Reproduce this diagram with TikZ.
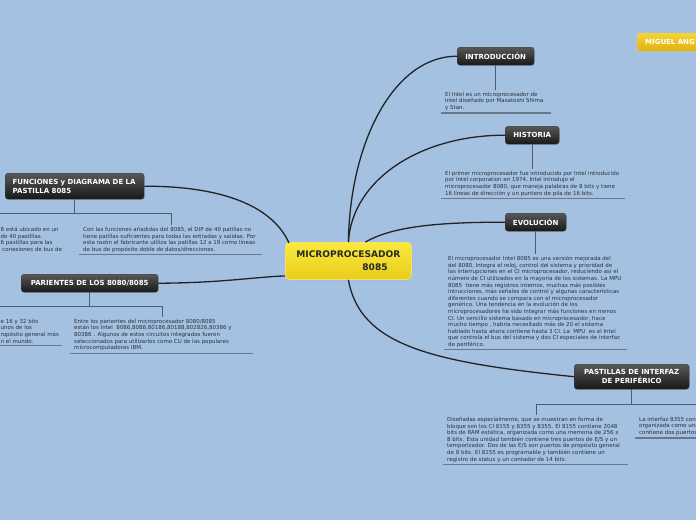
\documentclass[tikz,border=0pt]{standalone}
\usepackage{fontspec}
\setmainfont{DejaVu Sans}
\usetikzlibrary{shadows,calc}
\definecolor{bg}{RGB}{164,193,226}
\definecolor{linec}{RGB}{35,35,38}
\definecolor{branchc}{RGB}{80,92,110}
\definecolor{ulc}{RGB}{105,120,142}
\definecolor{txtc}{RGB}{45,48,58}
\definecolor{darktop}{RGB}{88,88,88}
\definecolor{darkbot}{RGB}{24,24,24}
\definecolor{yeltop}{RGB}{250,234,60}
\definecolor{yelbot}{RGB}{234,204,28}
\definecolor{yelborder}{RGB}{246,226,110}
\definecolor{goldtop}{RGB}{246,212,52}
\definecolor{goldbot}{RGB}{222,176,20}
\tikzset{
  topic/.style={rounded corners=3pt, top color=darktop, bottom color=darkbot,
    draw=black!75, line width=0.4pt, text=white,
    font=\fontsize{7}{9}\selectfont\bfseries, inner sep=0pt, anchor=north west,
    drop shadow={opacity=0.25,shadow xshift=0.6pt,shadow yshift=-1pt}},
  centertopic/.style={rounded corners=4pt, top color=yeltop, bottom color=yelbot,
    draw=yelborder, line width=0.8pt, text={rgb,255:red,40;green,40;blue,40},
    font=\fontsize{9.1}{13}\selectfont\bfseries, inner sep=0pt, anchor=north west,
    drop shadow={opacity=0.2,shadow xshift=0.6pt,shadow yshift=-1pt}},
  goldtopic/.style={rounded corners=3pt, top color=goldtop, bottom color=goldbot,
    draw=goldtop, line width=0.4pt, text=white,
    font=\fontsize{7}{9}\selectfont\bfseries, inner sep=0pt, anchor=north west},
  notetext/.style={anchor=north west, align=left, inner xsep=4pt, inner ysep=2pt,
    text=txtc, font=\fontsize{5.5}{6.6}\selectfont},
  mainlink/.style={draw=linec, line width=1.3pt},
  branch/.style={draw=branchc, line width=0.9pt},
  uline/.style={draw=ulc, line width=1.2pt},
}
\begin{document}
\begin{tikzpicture}[x=1pt,y=-1pt]
\fill[bg] (0,0) rectangle (696,520);
\useasboundingbox (0,0) rectangle (696,520);
\clip (0,0) rectangle (696,520);

% topics
\node[centertopic, minimum width=126pt, minimum height=37pt, align=left] (cen) at (285,242)
  {MICROPROCESADOR\\\hspace*{66pt}8085};
\node[topic, minimum width=77pt, minimum height=18pt] (intro) at (457,47) {INTRODUCCIÓN};
\node[topic, minimum width=54pt, minimum height=18pt] (hist) at (505,126) {HISTORIA};
\node[topic, minimum width=61pt, minimum height=18pt] (evol) at (505,213) {EVOLUCIÓN};
\node[topic, minimum width=115pt, minimum height=25pt, align=center] (past) at (574,364)
  {PASTILLAS DE INTERFAZ\\DE PERIFÉRICO};
\node[topic, text width=124pt, inner xsep=7.5pt, minimum height=26pt, align=left] (fun) at (5,173)
  {FUNCIONES y DIAGRAMA DE LA\\PASTILLA 8085};
\node[topic, minimum width=137pt, minimum height=18pt] (par) at (21,274) {PARIENTES DE LOS 8080/8085};
\node[goldtopic, minimum height=18pt, text width=70pt, inner xsep=8pt, align=left] (mig) at (637,33) {MIGUEL ANG};

% main connectors
\begin{scope}[on background layer/.style={}]
\end{scope}

% notes
\node[notetext] (introt) at (441,90)
  {El Intel es un microprocesador de\\Intel diseñado por Masatoshi Shima\\y Stan.};
\node[notetext] (histt) at (441,169)
  {El primer microprocesador fue introducido por Intel introducido\\por Intel corporation en 1974, Intel introdujo el\\microprocesador 8080, que maneja palabras de 8 bits y tiene\\16 líneas de dirección y un puntero de pila de 16 bits.};
\node[notetext] (evolt) at (444,254)
  {El microprocesador Intel 8085 es una versión mejorada del\\del 8080, Integra el reloj, control del sistema y prioridad de\\las interrupciones en el CI microprocesador, reduciendo así el\\número de CI utilizados en la mayoría de los sistemas. La MPU\\8085\ \ tiene más registros internos, muchas más posibles\\intrucciones, más señales de control y algunas características\\diferentes cuando se compara con el microprocesador\\genérico. Una tendencia en la evolución de los\\microprocesadores ha sido integrar más funciones en menos\\CI. Un sencillo sistema basado en microprocesador, hace\\mucho tiempo , habría necesitado más de 20 el sistema\\hablado hasta ahora contiene hasta 3 CI. La\ \ MPU\ \ es el Intel\\que controla el bus del sistema y dos CI especiales de interfaz\\de periférico.};
\node[notetext] (pastt) at (443,415)
  {Diseñadas especialmente, que se muestran en forma de\\bloque son los CI 8155 y 8355 y 8355. El 8155 contiene 2048\\bits de RAM estática, organizada como una memoria de 256 x\\8 bits. Esta unidad también contiene tres puertos de E/S y un\\temporizador. Dos de las E/S son puertos de propósito general\\de 8 bits. El 8155 es programable y también contiene un\\registro de status y un contador de 14 bits.};
\node[notetext] (pastr) at (635,415)
  {La interfaz 8355 con\\organizada como una\\contiene dos puertos};
\node[notetext] (funt) at (79,225)
  {Con las funciones añadidas del 8085, el DIP de 40 patillas no\\tiene patillas suficientes para todas las entradas y salidas. Por\\esta razón el fabricante utiliza las patillas 12 a 19 como líneas\\de bus de propósito doble de datos/direcciones.};
\node[notetext, inner xsep=0.5pt] (funl) at (0,225)
  {8 está ubicado en un\\de 40 pastillas.\\6 pastillas para las\\\ conesiones de bus de};
\node[notetext] (part) at (70,317)
  {Entre los parientes del microprocesador 8080/8085\\están los Intel\ \ 8086,8088,80186,80188,802826,80386 y\\80386 . Algunos de estos circuitos integrados fueron\\seleccionados para utilizarlos como CU de las populares\\microcomputadoras IBM.};
\node[notetext, inner xsep=0.5pt] (parl) at (0,317)
  {e 16 y 32 bits\\unos de los\\ropósito general más\\n el mundo.};

% underlines
\draw[uline] (introt.south west) -- ++(110,0);
\draw[uline] (histt.south west) -- ++(184,0);
\draw[uline] (evolt.south west) -- ++(183,0);
\draw[uline] (pastt.south west) -- ++(185,0);
\draw[uline] (pastr.south west) -- ++(70,0);
\draw[uline] (funt.south west) -- ++(183,0);
\draw[uline] (part.south west) -- ++(183,0);
\draw[uline] (parl.south west) -- ++(62,0);

% branches
\draw[branch] (intro.south) -- (intro.south |- introt.north);
\draw[branch] (hist.south) -- (hist.south |- histt.north);
\draw[branch] (evol.south) -- (evol.south |- evolt.north);
\coordinate (pastj) at ($(past.south)+(0,15)$);
\coordinate (pastL) at (536,404);
\coordinate (pastR) at (710,404);
\draw[branch] (past.south) -- (pastj);
\draw[branch] (pastL |- pastt.north) -- (pastL) -- (pastR);
\coordinate (funj) at ($(fun.south)+(0,14)$);
\coordinate (funL) at (-20,213);
\coordinate (funR) at (171,213);
\draw[branch] (fun.south) -- (funj);
\draw[branch] (funL) -- (funR) -- (funR |- funt.north);
\coordinate (parj) at ($(par.south)+(0,14)$);
\coordinate (parL) at (-20,306);
\coordinate (parR) at (162,306);
\draw[branch] (par.south) -- (parj);
\draw[branch] (parL) -- (parR) -- (parR |- part.north);

% main curves
\draw[mainlink] (cen.north) .. controls (350,140) and (395,56) .. (intro.west);
\draw[mainlink] (cen.north) .. controls (352,180) and (420,135) .. (hist.west);
\draw[mainlink] ($(cen.north)+(17,0)$) .. controls (390,228) and (430,222) .. (evol.west);
\draw[mainlink] (cen.south) .. controls (360,345) and (430,362) .. (past.west);
\draw[mainlink] (fun.east) .. controls (220,186) and (272,205) .. ($(cen.north west)+(4,1)$);
\draw[mainlink] (par.east) .. controls (220,283) and (255,277) .. ($(cen.west)+(0,15)$);
\end{tikzpicture}
\end{document}
